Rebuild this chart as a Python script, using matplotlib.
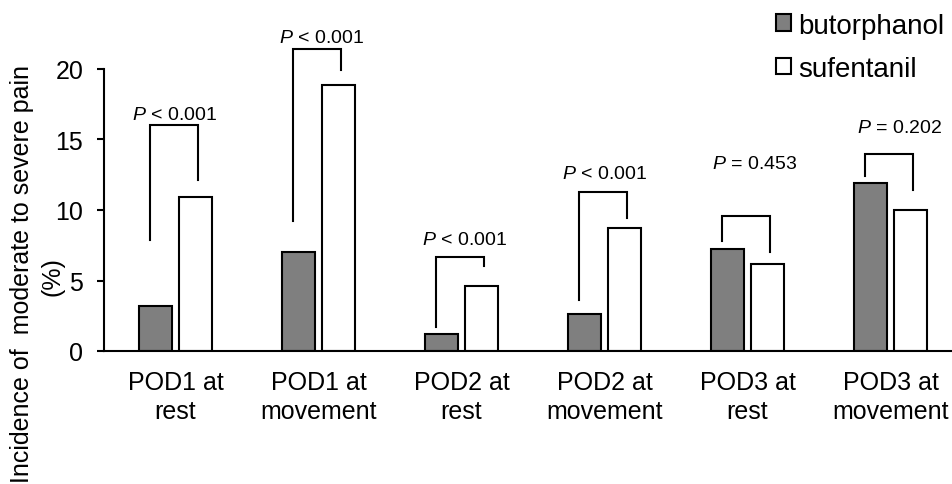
import matplotlib

matplotlib.use("Agg")
import matplotlib.pyplot as plt
import numpy as np
from matplotlib.patches import Patch

plt.rcParams["font.family"] = ["Liberation Sans", "DejaVu Sans"]
plt.rcParams["mathtext.fontset"] = "custom"
plt.rcParams["mathtext.rm"] = "Liberation Sans"
plt.rcParams["mathtext.it"] = "Liberation Sans:italic"

categories = ["POD1 at\nrest", "POD1 at\nmovement", "POD2 at\nrest",
              "POD2 at\nmovement", "POD3 at\nrest", "POD3 at\nmovement"]
butorphanol = [3.2, 7.0, 1.2, 2.6, 7.2, 11.9]
sufentanil = [10.9, 18.9, 4.6, 8.7, 6.2, 10.0]
p_labels = ["$\\it{P}$ < 0.001", "$\\it{P}$ < 0.001", "$\\it{P}$ < 0.001",
            "$\\it{P}$ < 0.001", "$\\it{P}$ = 0.453", "$\\it{P}$ = 0.202"]

# bracket geometry (data units)
bracket_top = [16.0, 21.4, 6.65, 11.3, 9.6, 14.0]
bracket_left_end = [7.9, 9.25, 1.7, 3.6, 7.8, 12.4]
bracket_right_end = [12.1, 19.9, 6.05, 9.45, 7.05, 11.4]
label_y = [16.45, 21.9, 7.6, 12.3, 13.0, 15.5]
label_dx = [-0.01, 0.02, 0.02, 0.0, 0.05, 0.06]

x = np.arange(len(categories))
bar_w = 0.23
off = 0.14

fig = plt.figure(figsize=(9.53, 4.85), dpi=100)
ax = fig.add_axes([104 / 953, 1 - 352 / 485, 858 / 953, 282 / 485])

ax.bar(x - off, butorphanol, bar_w, color="#7f7f7f", edgecolor="black", linewidth=1.5)
ax.bar(x + off, sufentanil, bar_w, color="white", edgecolor="black", linewidth=1.5)

for i in range(len(categories)):
    xl = x[i] - 0.18
    xr = x[i] + 0.155
    ax.plot([xl, xl, xr, xr],
            [bracket_left_end[i], bracket_top[i], bracket_top[i], bracket_right_end[i]],
            color="black", linewidth=1.5, clip_on=False, solid_joinstyle="miter")
    ax.text(x[i] + label_dx[i], label_y[i], p_labels[i], ha="center", va="baseline",
            fontsize=14, clip_on=False)

ax.set_xlim(-0.5, len(categories) - 0.5)
ax.set_ylim(0, 20)
ax.set_yticks([0, 5, 10, 15, 20])
ax.set_xticks(x)
ax.set_xticklabels(categories, fontsize=18, linespacing=1.22)
ax.tick_params(axis="x", length=0, pad=14)
ax.tick_params(axis="y", labelsize=18, length=5, width=1.5, pad=10)
for s in ["top", "right"]:
    ax.spines[s].set_visible(False)
for s in ["left", "bottom"]:
    ax.spines[s].set_linewidth(1.5)

# y label drawn as two lines sharing one centre
fig.text(22 / 953, 1 - 274 / 485, "Incidence of  moderate to severe pain",
         rotation=90, ha="center", va="center", fontsize=18)
fig.text(52 / 953, 1 - 277 / 485, "(%)",
         rotation=90, ha="center", va="center", fontsize=18)

handles = [Patch(facecolor="#7f7f7f", edgecolor="black", linewidth=1.5),
           Patch(facecolor="white", edgecolor="black", linewidth=1.5)]
fig.legend(handles, ["butorphanol", "sufentanil"], loc="upper left",
           bbox_to_anchor=(770 / 953, 1 - 8 / 485), frameon=False, fontsize=20,
           handlelength=0.55, handleheight=0.55, handletextpad=0.25, labelspacing=0.62,
           borderpad=0.2, borderaxespad=0)

fig.savefig("out.png", dpi=100)
